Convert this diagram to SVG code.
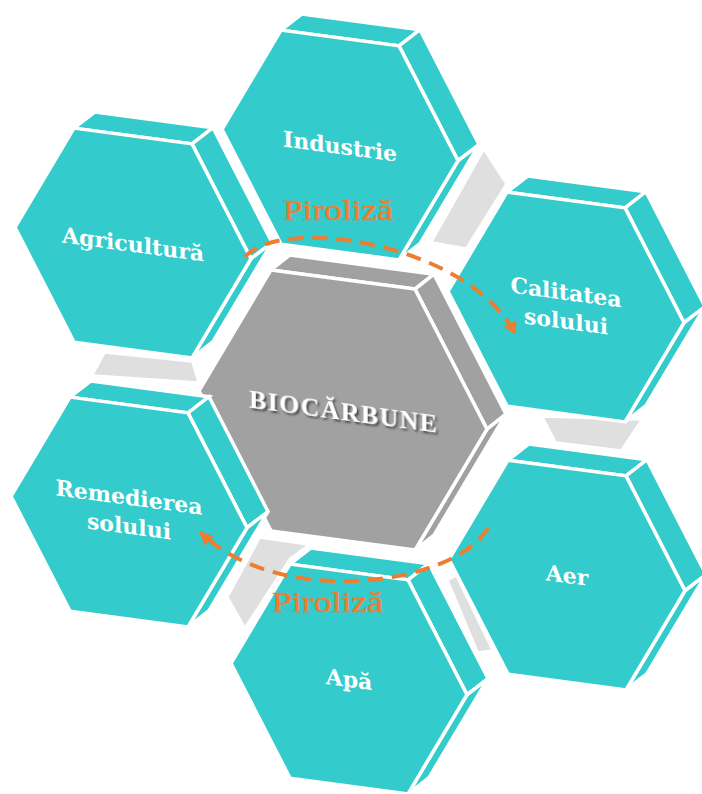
<svg xmlns="http://www.w3.org/2000/svg" xmlns:xlink="http://www.w3.org/1999/xlink" width="702" height="794" viewBox="0 0 702 794">
  <style>
    .face { fill: #33CBCB; stroke: #FFFFFF; stroke-width: 3.5; stroke-linejoin: miter; vector-effect: non-scaling-stroke; }
    .core { fill: #A1A1A1; stroke: #FFFFFF; stroke-width: 3.5; stroke-linejoin: miter; vector-effect: non-scaling-stroke; }
    .gap { fill: #DFDFDF; stroke: #FFFFFF; stroke-width: 1.5; stroke-linejoin: round; }
    .lbl { font-family: "DejaVu Serif", "Liberation Serif", serif; font-weight: bold; font-size: 22px; fill: #FFFFFF; text-anchor: middle; }
    .title { font-family: "Liberation Serif", "DejaVu Serif", serif; font-weight: bold; font-size: 26px; fill: #FFFFFF; text-anchor: middle; }
    .flow { fill: none; stroke: #EC7D31; stroke-width: 4; stroke-dasharray: 15 9; }
    .flowlbl { font-family: "Liberation Serif", "DejaVu Serif", serif; font-size: 30px; fill: #EC7D31; stroke: #EC7D31; stroke-width: 0.5; }
  </style>
  <defs>
    <!-- hexagonal prism in local (unskewed) coordinates: front face plus top and right bevels -->
    <g id="prism">
      <polygon class="face" points="-59,-107 59,-107 80,-126 -38,-126"/>
      <polygon class="face" points="59,-107 118,0 139,-19 80,-126"/>
      <polygon class="face" points="118,0 59,107 80,88 139,-19"/>
      <polygon class="face" points="-59,-107 59,-107 118,0 59,107 -59,107 -118,0"/>
    </g>
    <marker id="arrow" markerUnits="userSpaceOnUse" markerWidth="14" markerHeight="14" refX="13" refY="7" orient="auto">
      <path d="M0,0 L13,7 L0,14 z" fill="#EC7D31"/>
    </marker>
    <filter id="tshadow" x="-10%" y="-40%" width="125%" height="190%">
      <feDropShadow dx="2" dy="2" stdDeviation="1" flood-color="#3A3A3A" flood-opacity="0.9"/>
    </filter>
  </defs>

  <!-- light grey side pieces showing in the gaps -->
  <g id="gaps">
    <polygon class="gap" points="484,150 506,184 466,248 432,242"/>
    <polygon class="gap" points="105,353 192,362 198,382 93,375"/>
    <polygon class="gap" points="543,417 641,420 621,450 556,442"/>
    <polygon class="gap" points="260,538 308,545 290,558 245,627 228,597"/>
    <polygon class="gap" points="448,580 456,576 492,650 478,652"/>
  </g>

  <g id="calitatea" transform="translate(566,307) skewY(7.6)">
    <use xlink:href="#prism"/>
    <text class="lbl" x="0" y="-7">Calitatea</text>
    <text class="lbl" x="0" y="22">solului</text>
  </g>

  <g id="industrie" transform="translate(340,145) skewY(7.6)">
    <use xlink:href="#prism"/>
    <text class="lbl" x="0" y="9">Industrie</text>
  </g>

  <g id="aer" transform="translate(567,575) skewY(7.6)">
    <use xlink:href="#prism"/>
    <text class="lbl" x="0" y="8">Aer</text>
  </g>

  <g id="biocarbune" transform="translate(343,410) skewY(7.6)">
    <polygon class="core" points="-72,-130.5 72,-130.5 91,-148 -53,-148"/>
    <polygon class="core" points="72,-130.5 144,0 163,-17.5 91,-148"/>
    <polygon class="core" points="144,0 72,130.5 91,113 163,-17.5"/>
    <polygon class="core" points="-72,-130.5 72,-130.5 144,0 72,130.5 -72,130.5 -144,0"/>
    <text class="title" x="0" y="10" textLength="188" lengthAdjust="spacing" filter="url(#tshadow)">BIOCĂRBUNE</text>
  </g>

  <g id="agricultura" transform="translate(133,243) skewY(7.6)">
    <use xlink:href="#prism"/>
    <text class="lbl" x="0" y="9">Agricultură</text>
  </g>

  <g id="apa" transform="translate(349,679) skewY(7.6)">
    <use xlink:href="#prism"/>
    <text class="lbl" x="0" y="8">Apă</text>
  </g>

  <g id="remedierea" transform="translate(129,512) skewY(7.6)">
    <use xlink:href="#prism"/>
    <text class="lbl" x="0" y="-7">Remedierea</text>
    <text class="lbl" x="0" y="22">solului</text>
  </g>

  <!-- pyrolysis flows -->
  <g id="connectors">
    <path class="flow" d="M245,257 C280,215 468,242 516,335" marker-end="url(#arrow)"/>
    <text class="flowlbl" x="283" y="220" textLength="110" lengthAdjust="spacingAndGlyphs">Piroliză</text>
    <path class="flow" d="M488,528 C455,585 280,610 200,532" marker-end="url(#arrow)"/>
    <text class="flowlbl" x="272" y="612" textLength="111" lengthAdjust="spacingAndGlyphs">Piroliză</text>
  </g>
</svg>
